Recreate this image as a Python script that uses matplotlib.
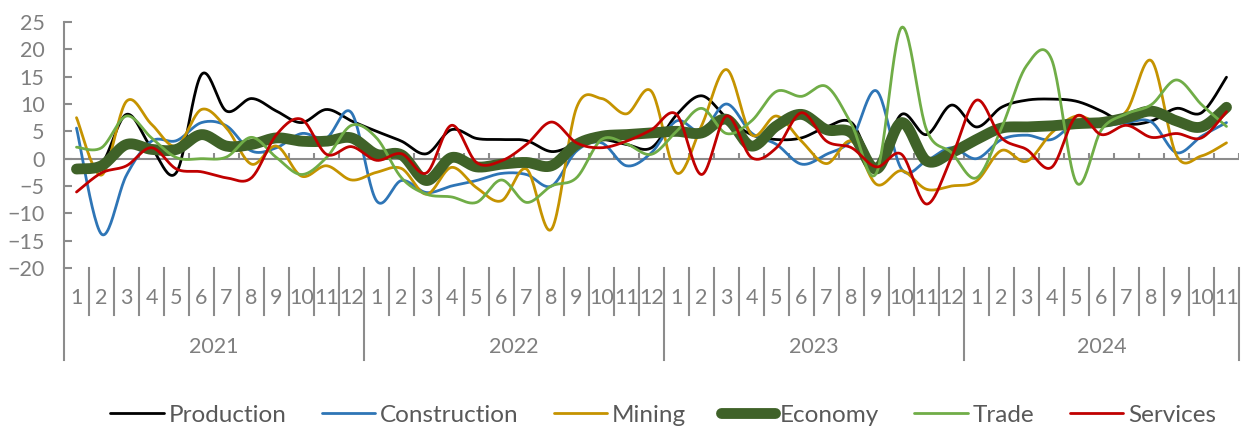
import numpy as np
import matplotlib
matplotlib.use("Agg")
import matplotlib.pyplot as plt
from matplotlib.transforms import blended_transform_factory

plt.rcParams['font.family'] = ['Lato', 'DejaVu Sans']

# monthly values, Jan 2021 .. Nov 2024
years = ['2021', '2022', '2023', '2024']
months = [str(m) for m in range(1, 13)] * 3 + [str(m) for m in range(1, 12)]

production = [-2, -1, 8.1, 2, -2.5, 15.4, 8.7, 11, 8.7, 6.6, 9, 6.9,
              5, 3.2, 0.9, 5.3, 3.7, 3.5, 3.3, 1.3, 2.6, 3.5, 2.6, 2,
              8, 11.5, 7.5, 4.4, 3.5, 3.8, 5.8, 6.6, -1, 8.1, 4.4, 9.8,
              5.8, 9.4, 10.7, 10.9, 10.5, 8.7, 6.4, 6.9, 9.2, 8.4, 14.9]
construction = [5.6, -13.8, -3, 3.2, 3.3, 6.6, 6, 1.4, 2, 4.6, 3.8, 8.4,
                -7.7, -4, -6.2, -5, -4, -2.7, -2.9, -5, 1.4, 2.9, -1.3, 1.1,
                6.9, 5, 10, 4.7, 2.6, -1, 0.8, 3.5, 12.4, -1.9, -0.4, 2,
                0, 3.5, 4.3, 3.5, 6.6, 6, 6.6, 6.7, 1.1, 4.1, 6.6]
mining = [7.5, -3, 10.5, 6.3, 2.3, 9, 5.6, -1, 2.3, -3.2, -1.3, -3.9,
          -2.5, -1.8, -6.5, -1.6, -5.3, -7.7, -1.9, -12.9, 9.3, 11, 8.2, 12.3,
          -2.6, 6, 16.3, 4.4, 7.8, 3.2, -0.9, 3.2, -4.7, -2.2, -5.6, -5,
          -4.1, 1.5, -0.5, 4.7, 7.8, 6.5, 8.7, 17.9, 0.6, 0.5, 2.9]
economy = [-1.9, -1.3, 2.6, 1.7, 1.7, 4.4, 2.3, 2.6, 3.8, 3.2, 3.2, 3.8,
           0.8, 0.7, -4, 0.2, -1.5, -1, -0.7, -1.3, 2.6, 4.1, 4.4, 4.7,
           5, 4.7, 7.2, 2.3, 6, 8.1, 5.3, 4.7, -1.9, 6.6, -0.4, 1.1,
           3.5, 5.6, 5.8, 6, 6.4, 6.6, 7.5, 8.7, 6.9, 5.8, 9.4]
trade = [2.1, 2, 7.8, 3.8, 0.2, 0, 0.3, 3.9, 0.2, -2.9, 0.2, 6.1,
         3.8, -3.5, -6.5, -7, -8, -3.9, -8, -5, -3.5, 3.5, 2.7, 0.8,
         5, 9.2, 4.6, 6.9, 12.3, 11.4, 13.2, 6.3, -2.6, 24, 5.3, 1.1,
         -3.5, 5.6, 17, 18.2, -4.4, 5.3, 8.2, 9.9, 14.4, 9.9, 5.9]
services = [-6.1, -2.6, -1.3, 2, -1.9, -2.4, -3.5, -3.5, 4.4, 7.2, 0.8, 2.2,
            -0.3, 0.9, -2.6, 6.1, -0.7, -0.4, 2.6, 6.7, 2.9, 2, 3.2, 5.3,
            8.1, -2.9, 7.8, 0.2, 2, 8.4, 3.2, 2, -1.5, 0.8, -8.3, 0.2,
            10.7, 3.8, 1.7, -1.6, 7.8, 4.4, 6.1, 3.9, 4.6, 3.8, 8.6]


def smooth(y, n=24):
    # excel-like smoothed line (catmull-rom bezier)
    x = np.arange(len(y)) + 0.5
    pts = np.column_stack([x, y])
    padded = np.vstack([pts[0], pts, pts[-1]])
    t = np.linspace(0, 1, n, endpoint=False)[:, None]
    out = []
    for k in range(len(y) - 1):
        p0, p1, p2, p3 = padded[k:k + 4]
        c1 = p1 + (p2 - p0) / 6
        c2 = p2 - (p3 - p1) / 6
        out.append((1 - t) ** 3 * p1 + 3 * (1 - t) ** 2 * t * c1
                   + 3 * (1 - t) * t ** 2 * c2 + t ** 3 * p2)
    out.append(pts[-1:])
    return np.vstack(out)


series = [
    ('Production', production, '#000000', 2.0),
    ('Construction', construction, '#2E75B6', 2.0),
    ('Mining', mining, '#C59300', 2.0),
    ('Economy', economy, '#3F6228', 7.8),
    ('Trade', trade, '#70AD47', 2.0),
    ('Services', services, '#C00000', 2.0),
]

grey = '#8c8c8c'
fig = plt.figure(figsize=(12.46, 4.26), dpi=100)
ax = fig.add_axes([64 / 1246, 1 - 268 / 426, 1175 / 1246, 246 / 426])

n = len(months)
for name, vals, col, lw in series:
    xy = smooth(vals)
    ax.plot(xy[:, 0], xy[:, 1], color=col, lw=lw, label=name,
            solid_capstyle='round', solid_joinstyle='round')

ax.set_xlim(0, n)
ax.set_ylim(-20, 25)
ax.set_yticks(range(-20, 26, 5))
for s in ['top', 'right', 'bottom']:
    ax.spines[s].set_visible(False)
ax.spines['left'].set_color(grey)
ax.spines['left'].set_linewidth(1.5)
ax.tick_params(axis='y', direction='in', length=6, width=1.5, color=grey,
               labelcolor='#7f7f7f', labelsize=15.5, pad=14)
ax.set_xticks([])

# zero line with little category ticks
ax.axhline(0, color=grey, lw=1.5, zorder=0.5)
ax.vlines(np.arange(1, n + 1), 0, 1.1, color=grey, lw=1.5, zorder=0.5)

# multi-level category axis below the plot
tr = blended_transform_factory(ax.transData, ax.transAxes)
for b in range(1, n):
    if b % 12 == 0:
        continue
    ax.plot([b, b], [0, -0.19], color=grey, lw=1.5, transform=tr, clip_on=False)
for b in [0, 12, 24, 36, n]:
    ax.plot([b, b], [0, -0.375], color=grey, lw=1.5, transform=tr, clip_on=False)
for i, m in enumerate(months):
    ax.text(i + 0.5, -0.122, m, transform=tr, ha='center', va='center',
            fontsize=15.5, color='#7f7f7f')
starts = [0, 12, 24, 36]
for k, yr in enumerate(years):
    end = starts[k + 1] if k + 1 < len(starts) else n
    ax.text((starts[k] + end) / 2, -0.32, yr, transform=tr, ha='center',
            va='center', fontsize=15.5, color='#7f7f7f')

fig.legend(loc='center', bbox_to_anchor=(663 / 1246, 1 - 415 / 426), ncol=6,
           frameon=False, fontsize=17.5, labelcolor='#595959',
           handlelength=2.2, handletextpad=0.2, columnspacing=1.45)

fig.savefig('out.png', dpi=100)
